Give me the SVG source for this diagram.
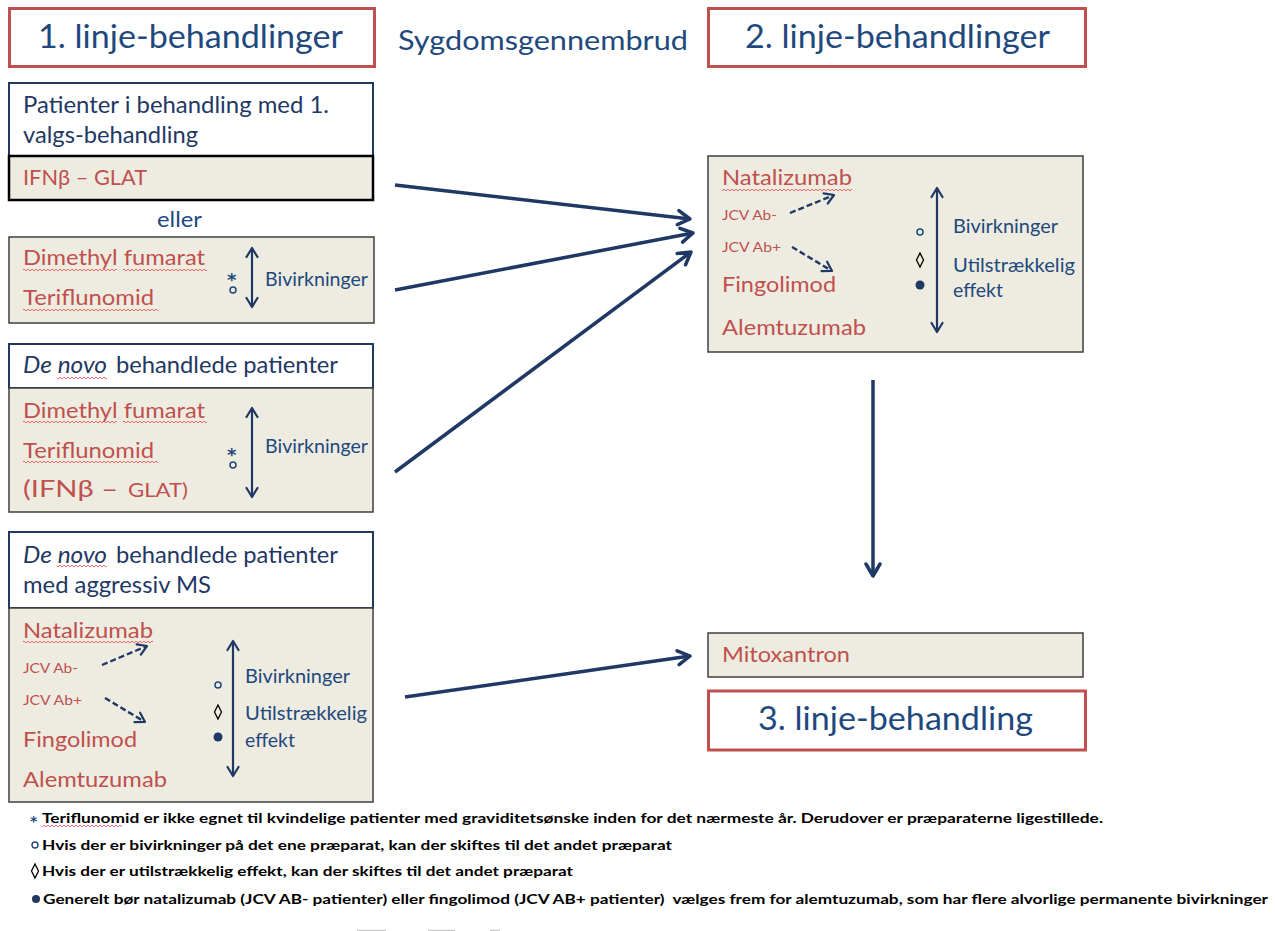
<svg xmlns="http://www.w3.org/2000/svg" width="1275" height="931" viewBox="0 0 1275 931">
<style>
text{font-family:Lato,"Open Sans","Liberation Sans",sans-serif}
.nv{fill:#1F497D}
.rd{fill:#C0504D}
.title{font-size:33px;fill:#1F497D}
.hdr{font-size:23px;fill:#1F3864}
.drug{font-size:21.5px;fill:#C0504D}
.jcv{font-size:14px;fill:#C0504D}
.side{font-size:19px;fill:#1F497D}
.fn{font-size:14px;font-weight:bold;fill:#000}
.ast{font-family:"DejaVu Sans",sans-serif;font-weight:bold;fill:#1F497D}
.tbox{fill:#fff;stroke:#C0504D;stroke-width:3}
.hbox{fill:#fff;stroke:#1F3864;stroke-width:2}
.bbox{fill:#EEECE1;stroke:#3F3F3F;stroke-width:1.5}
.conn{stroke:#1F3864;stroke-width:3.5;fill:none;marker-end:url(#ah)}
.dbl{stroke:#1F3864;stroke-width:2.2;fill:none;marker-start:url(#sh);marker-end:url(#sh)}
.dash{stroke:#1F3864;stroke-width:2.4;stroke-dasharray:6 3;fill:none;marker-end:url(#sh)}
.wv{fill:url(#wave)}
</style>
<defs>
<marker id="ah" markerUnits="userSpaceOnUse" viewBox="0 0 18 18" refX="15" refY="9" markerWidth="18" markerHeight="18" orient="auto">
<path d="M3,2 L15,9 L3,16" fill="none" stroke="#1F3864" stroke-width="3.5" stroke-linecap="round" stroke-linejoin="round"/>
</marker>
<marker id="sh" markerUnits="userSpaceOnUse" viewBox="0 0 14 14" refX="12" refY="7" markerWidth="14" markerHeight="14" orient="auto-start-reverse">
<path d="M3,1.5 L12,7 L3,12.5" fill="none" stroke="#1F3864" stroke-width="2.2" stroke-linecap="round" stroke-linejoin="round"/>
</marker>
<pattern id="wave" patternUnits="userSpaceOnUse" width="4" height="4">
<path d="M0,1 L2,3 L4,1" fill="none" stroke="#E04848" stroke-width="0.8"/>
</pattern>
</defs>

<g id="title1">
<rect class="tbox" x="9.5" y="8.5" width="365" height="58"/>
<text class="title" x="38" y="48" textLength="305" lengthAdjust="spacingAndGlyphs">1. linje-behandlinger</text>
</g>
<g id="breakthrough">
<text x="398" y="50" font-size="27" class="nv" textLength="290" lengthAdjust="spacingAndGlyphs">Sygdomsgennembrud</text>
</g>
<g id="title2">
<rect class="tbox" x="708.5" y="8.5" width="377" height="58"/>
<text class="title" x="745" y="48" textLength="305" lengthAdjust="spacingAndGlyphs">2. linje-behandlinger</text>
</g>

<g id="boxA">
<rect class="hbox" x="9" y="83" width="364" height="73"/>
<text class="hdr" x="23" y="113" textLength="306" lengthAdjust="spacingAndGlyphs">Patienter i behandling med 1.</text>
<text class="hdr" x="23" y="143" textLength="175" lengthAdjust="spacingAndGlyphs">valgs-behandling</text>
<rect x="9" y="156" width="364" height="44" fill="#EEECE1" stroke="#000" stroke-width="2.5"/>
<text class="drug" x="23" y="185" textLength="124" lengthAdjust="spacingAndGlyphs">IFNβ – GLAT</text>
</g>

<g id="eller">
<text x="157" y="227" font-size="21" class="nv" textLength="45" lengthAdjust="spacingAndGlyphs">eller</text>
</g>

<g id="boxB">
<rect class="bbox" x="9" y="237" width="365" height="86"/>
<text class="drug" x="23" y="265" textLength="182" lengthAdjust="spacingAndGlyphs">Dimethyl fumarat</text>
<rect class="wv" x="23" y="267" width="94" height="4"/>
<rect class="wv" x="123" y="267" width="84" height="4"/>
<text class="drug" x="23" y="305" textLength="131" lengthAdjust="spacingAndGlyphs">Teriflunomid</text>
<rect class="wv" x="23" y="307" width="135" height="4"/>
<text class="ast" x="227" y="286" font-size="18">*</text>
<circle cx="233" cy="290" r="3" fill="none" stroke="#1F497D" stroke-width="1.5"/>
<line class="dbl" x1="252" y1="248" x2="252" y2="307"/>
<text class="side" x="265" y="286" textLength="103" lengthAdjust="spacingAndGlyphs">Bivirkninger</text>
</g>

<g id="boxC">
<rect class="hbox" x="9" y="344" width="364" height="44"/>
<text class="hdr" x="23" y="373" font-style="italic" textLength="84" lengthAdjust="spacingAndGlyphs">De novo</text>
<rect class="wv" x="57" y="375" width="50" height="4"/>
<text class="hdr" x="116" y="373" textLength="222" lengthAdjust="spacingAndGlyphs">behandlede patienter</text>
<rect class="bbox" x="9" y="388" width="364" height="124"/>
<text class="drug" x="23" y="418" textLength="182" lengthAdjust="spacingAndGlyphs">Dimethyl fumarat</text>
<rect class="wv" x="23" y="420" width="94" height="4"/>
<rect class="wv" x="123" y="420" width="84" height="4"/>
<text class="drug" x="23" y="458" textLength="131" lengthAdjust="spacingAndGlyphs">Teriflunomid</text>
<rect class="wv" x="23" y="460" width="135" height="4"/>
<text class="rd" x="23" y="497" font-size="24" textLength="95" lengthAdjust="spacingAndGlyphs">(IFNβ –</text>
<text class="rd" x="128" y="497" font-size="19" textLength="60" lengthAdjust="spacingAndGlyphs">GLAT)</text>
<text class="ast" x="227" y="461" font-size="18">*</text>
<circle cx="233" cy="465" r="3" fill="none" stroke="#1F497D" stroke-width="1.5"/>
<line class="dbl" x1="252" y1="408" x2="252" y2="497"/>
<text class="side" x="265" y="453" textLength="103" lengthAdjust="spacingAndGlyphs">Bivirkninger</text>
</g>

<g id="boxD">
<rect class="hbox" x="9" y="532" width="364" height="76"/>
<text class="hdr" x="23" y="563" font-style="italic" textLength="84" lengthAdjust="spacingAndGlyphs">De novo</text>
<rect class="wv" x="57" y="565" width="50" height="4"/>
<text class="hdr" x="116" y="563" textLength="222" lengthAdjust="spacingAndGlyphs">behandlede patienter</text>
<text class="hdr" x="23" y="593" textLength="188" lengthAdjust="spacingAndGlyphs">med aggressiv MS</text>
<rect class="bbox" x="9" y="608" width="364" height="194"/>
<text class="drug" x="23" y="638" textLength="130" lengthAdjust="spacingAndGlyphs">Natalizumab</text>
<rect class="wv" x="23" y="640" width="130" height="4"/>
<text class="jcv" x="23" y="673" textLength="55" lengthAdjust="spacingAndGlyphs">JCV Ab-</text>
<path class="dash" d="M102,665 L147,646"/>
<text class="jcv" x="23" y="705" textLength="59" lengthAdjust="spacingAndGlyphs">JCV Ab+</text>
<path class="dash" d="M105,698 L145,722"/>
<text class="drug" x="23" y="747" textLength="114" lengthAdjust="spacingAndGlyphs">Fingolimod</text>
<text class="drug" x="23" y="787" textLength="144" lengthAdjust="spacingAndGlyphs">Alemtuzumab</text>
<circle cx="218" cy="685" r="3" fill="none" stroke="#1F497D" stroke-width="1.5"/>
<path d="M218,705 L221.5,712 L218,719 L214.5,712 Z" fill="none" stroke="#000" stroke-width="1.3"/>
<circle cx="218" cy="737" r="4.5" fill="#1F3864"/>
<line class="dbl" x1="233" y1="641" x2="233" y2="776"/>
<text class="side" x="245" y="683" textLength="105" lengthAdjust="spacingAndGlyphs">Bivirkninger</text>
<text class="side" x="245" y="720" textLength="122" lengthAdjust="spacingAndGlyphs">Utilstrækkelig</text>
<text class="side" x="245" y="747" textLength="50" lengthAdjust="spacingAndGlyphs">effekt</text>
</g>

<g id="boxE">
<rect class="bbox" x="708" y="156" width="375" height="196"/>
<text class="drug" x="722" y="185" textLength="130" lengthAdjust="spacingAndGlyphs">Natalizumab</text>
<rect class="wv" x="722" y="187" width="130" height="4"/>
<text class="jcv" x="722" y="220" textLength="55" lengthAdjust="spacingAndGlyphs">JCV Ab-</text>
<path class="dash" d="M790,213 L834,195"/>
<text class="jcv" x="722" y="252" textLength="59" lengthAdjust="spacingAndGlyphs">JCV Ab+</text>
<path class="dash" d="M792,247 L832,271"/>
<text class="drug" x="722" y="292" textLength="114" lengthAdjust="spacingAndGlyphs">Fingolimod</text>
<text class="drug" x="722" y="335" textLength="144" lengthAdjust="spacingAndGlyphs">Alemtuzumab</text>
<circle cx="920" cy="232" r="3" fill="none" stroke="#1F497D" stroke-width="1.5"/>
<path d="M920,253 L923.5,260 L920,267 L916.5,260 Z" fill="none" stroke="#000" stroke-width="1.3"/>
<circle cx="920" cy="285" r="4.5" fill="#1F3864"/>
<line class="dbl" x1="937" y1="188" x2="937" y2="332"/>
<text class="side" x="953" y="233" textLength="105" lengthAdjust="spacingAndGlyphs">Bivirkninger</text>
<text class="side" x="953" y="272" textLength="122" lengthAdjust="spacingAndGlyphs">Utilstrækkelig</text>
<text class="side" x="953" y="297" textLength="50" lengthAdjust="spacingAndGlyphs">effekt</text>
</g>

<g id="boxF">
<rect class="bbox" x="708" y="633" width="375" height="44"/>
<text class="drug" x="722" y="662" textLength="128" lengthAdjust="spacingAndGlyphs">Mitoxantron</text>
</g>

<g id="title3">
<rect class="tbox" x="708.5" y="691" width="377" height="59"/>
<text class="title" x="758" y="730" textLength="275" lengthAdjust="spacingAndGlyphs">3. linje-behandling</text>
</g>

<g id="connectors">
<path class="conn" d="M395,185 L690,219"/>
<path class="conn" d="M395,290 L693,233"/>
<path class="conn" d="M395,472 L691,252"/>
<path class="conn" d="M405,697 L690,656"/>
<path class="conn" d="M873,380 L873,576"/>
</g>

<g id="footnotes">
<text class="ast" x="30" y="826" font-size="14">*</text>
<text class="fn" x="42" y="823" textLength="1061" lengthAdjust="spacingAndGlyphs">Teriflunomid er ikke egnet til kvindelige patienter med graviditetsønske inden for det nærmeste år. Derudover er præparaterne ligestillede.</text>
<rect class="wv" x="42" y="825" width="80" height="4"/>
<circle cx="35" cy="845" r="3" fill="none" stroke="#1F497D" stroke-width="1.4"/>
<text class="fn" x="42" y="850" textLength="630" lengthAdjust="spacingAndGlyphs">Hvis der er bivirkninger på det ene præparat, kan der skiftes til det andet præparat</text>
<path d="M35,864 L38.5,871 L35,878 L31.5,871 Z" fill="none" stroke="#000" stroke-width="1.3"/>
<text class="fn" x="42" y="876" textLength="531" lengthAdjust="spacingAndGlyphs">Hvis der er utilstrækkelig effekt, kan der skiftes til det andet præparat</text>
<circle cx="36" cy="899" r="4" fill="#1F3864"/>
<text class="fn" x="43" y="904" xml:space="preserve" textLength="1225" lengthAdjust="spacingAndGlyphs">Generelt bør natalizumab (JCV AB- patienter) eller fingolimod (JCV AB+ patienter)  vælges frem for alemtuzumab, som har flere alvorlige permanente bivirkninger</text>
</g>

<g id="cutoff" stroke="#C8C8C8" stroke-width="1.5">
<line x1="357" y1="930.5" x2="386" y2="930.5"/>
<line x1="428" y1="930.5" x2="455" y2="930.5"/>
<line x1="490" y1="930.5" x2="500" y2="930.5"/>
</g>
</svg>
